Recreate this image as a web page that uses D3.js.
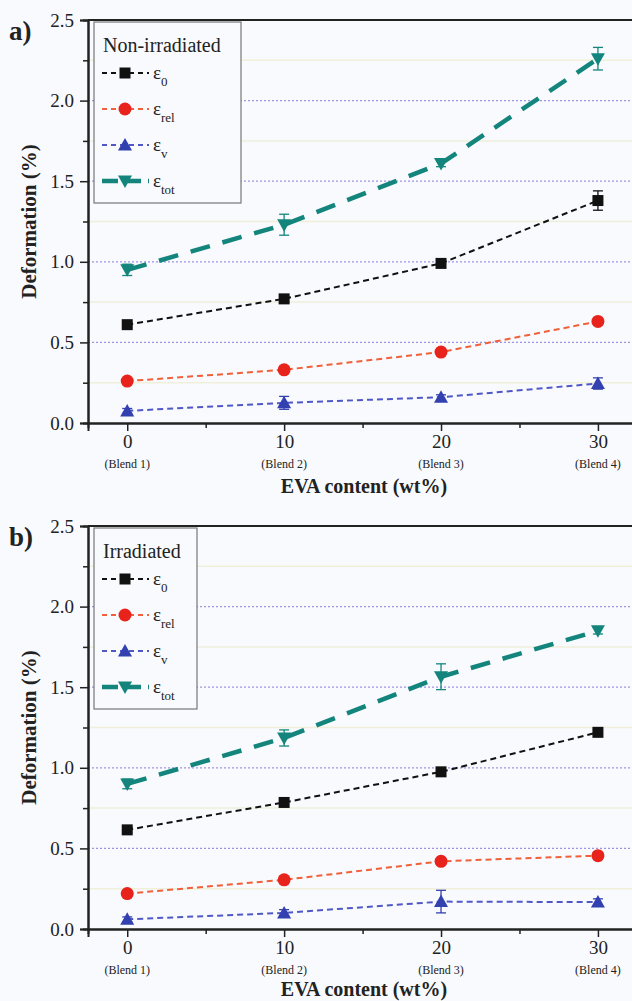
<!DOCTYPE html>
<html>
<head>
<meta charset="utf-8">
<script src="https://cdn.jsdelivr.net/npm/d3@7"></script>
<style>
  html, body { margin: 0; padding: 0; background: #f8fafd; }
  svg { display: block; }
  text { font-family: "Liberation Serif", "DejaVu Serif", serif; fill: #222; }
</style>
</head>
<body>
<div id="chart"></div>
<script>
// EVA content (wt%) and blend names
var evaContent = [0, 10, 20, 30];
var blendNames = ["(Blend 1)", "(Blend 2)", "(Blend 3)", "(Blend 4)"];
var yTicks = [0, 0.5, 1.0, 1.5, 2.0, 2.5];

// non-irradiated
var nonE0 = [0.61, 0.77, 0.99, 1.38];
var nonE0Err = [0.015, 0.015, 0.015, 0.06];
var nonErel = [0.26, 0.33, 0.44, 0.63];
var nonErelErr = [0.015, 0.015, 0.015, 0.02];
var nonEv = [0.075, 0.125, 0.16, 0.245];
var nonEvErr = [0.015, 0.04, 0.015, 0.035];
var nonEtot = [0.95, 1.23, 1.61, 2.26];
var nonEtotErr = [0.035, 0.065, 0.02, 0.07];

// irradiated
var irrE0 = [0.615, 0.785, 0.975, 1.22];
var irrE0Err = [0.015, 0.015, 0.015, 0.02];
var irrErel = [0.22, 0.305, 0.42, 0.455];
var irrErelErr = [0.015, 0.02, 0.015, 0.02];
var irrEv = [0.06, 0.1, 0.17, 0.167];
var irrEvErr = [0.015, 0.02, 0.07, 0.02];
var irrEtot = [0.9, 1.185, 1.565, 1.85];
var irrEtotErr = [0.03, 0.05, 0.08, 0.02];

var W = 632, H = 1001;

var styles = {
    e0:   { sub: "0",   color: "#111111", line: "#111111", width: 2,   dash: "6,4",   shape: "square" },
    erel: { sub: "rel", color: "#e8231c", line: "#f0603a", width: 2,   dash: "6,4",   shape: "circle" },
    ev:   { sub: "v",   color: "#3340b0", line: "#5058c8", width: 2,   dash: "6,4",   shape: "up" },
    etot: { sub: "tot", color: "#13857c", line: "#13857c", width: 4.5, dash: "20,13", shape: "down" }
};

var svg = d3.select("#chart").append("svg")
    .attr("width", W)
    .attr("height", H);

function marker(sel, shape, color) {
    if (shape === "square") {
        sel.append("rect").attr("x", -5.5).attr("y", -5.5).attr("width", 11).attr("height", 11)
            .attr("fill", color);
    } else if (shape === "circle") {
        sel.append("circle").attr("r", 6.5).attr("fill", color);
    } else if (shape === "up") {
        sel.append("path").attr("d", "M0,-7 L7,5.5 L-7,5.5 Z").attr("fill", color);
    } else {
        sel.append("path").attr("d", "M0,7 L7,-5.5 L-7,-5.5 Z").attr("fill", color);
    }
}

function drawPanel(top, letter, title, series, legendW, titleGap) {
    var bottom = top + 403;
    var x = d3.scaleLinear().domain([-2.5, 33]).range([88, 645]);
    var y = d3.scaleLinear().domain([0, 2.5]).range([bottom, top]);

    var g = svg.append("g");

    // grid: pale solid lines at quarter steps, dotted purple at half steps
    g.selectAll(".minorGrid").data([0.25, 0.75, 1.25, 1.75, 2.25]).enter().append("line")
        .attr("x1", 88).attr("x2", W)
        .attr("y1", function(d) { return y(d); }).attr("y2", function(d) { return y(d); })
        .attr("stroke", "#efefda").attr("stroke-width", 1.5);
    g.selectAll(".majorGrid").data([0.5, 1.0, 1.5, 2.0]).enter().append("line")
        .attr("x1", 88).attr("x2", W)
        .attr("y1", function(d) { return y(d); }).attr("y2", function(d) { return y(d); })
        .attr("stroke", "#a093e0").attr("stroke-width", 1.2).attr("stroke-dasharray", "2,2");

    // top frame line
    g.append("line").attr("x1", 88).attr("x2", W).attr("y1", top).attr("y2", top)
        .attr("stroke", "#222").attr("stroke-width", 2);

    // axes
    var yAxis = d3.axisLeft(y).tickValues(yTicks).tickFormat(d3.format(".1f")).tickSize(8).tickPadding(6);
    var ya = g.append("g").attr("transform", "translate(88,0)").call(yAxis);
    ya.selectAll("text").style("font-size", "19px").attr("fill", "#333");
    g.append("g").attr("transform", "translate(88,0)")
        .call(d3.axisLeft(y).tickValues([0.25, 0.75, 1.25, 1.75, 2.25]).tickSize(5).tickFormat(""));

    var xAxis = d3.axisBottom(x).tickValues(evaContent).tickSize(8).tickPadding(4).tickFormat(d3.format("d"));
    var xa = g.append("g").attr("transform", "translate(0," + bottom + ")").call(xAxis);
    xa.selectAll("text").style("font-size", "19px").attr("fill", "#333");
    g.append("g").attr("transform", "translate(0," + bottom + ")")
        .call(d3.axisBottom(x).tickValues([5, 15, 25]).tickSize(5).tickFormat(""));

    svg.selectAll(".domain").attr("stroke", "#222").attr("stroke-width", 2);
    svg.selectAll(".tick line").attr("stroke", "#222").attr("stroke-width", 1.5);

    g.selectAll(".blend").data(blendNames).enter().append("text")
        .attr("x", function(d, i) { return x(evaContent[i]); })
        .attr("y", bottom + 45)
        .attr("text-anchor", "middle")
        .style("font-size", "12px")
        .attr("fill", "#333")
        .text(function(d) { return d; });

    g.append("text")
        .attr("x", 364).attr("y", bottom + titleGap)
        .attr("text-anchor", "middle")
        .style("font-size", "20px").style("font-weight", "bold")
        .text("EVA content (wt%)");

    g.append("text")
        .attr("transform", "translate(36," + ((top + bottom) / 2) + ") rotate(-90)")
        .attr("text-anchor", "middle")
        .style("font-size", "21px").style("font-weight", "bold")
        .text("Deformation (%)");

    g.append("text")
        .attr("x", 9).attr("y", top + 20)
        .style("font-size", "27px").style("font-weight", "bold")
        .text(letter);

    var line = d3.line()
        .x(function(d) { return x(d.x); })
        .y(function(d) { return y(d.y); });

    series.forEach(function(s) {
        var st = styles[s.key];
        var pts = evaContent.map(function(v, i) { return { x: v, y: s.values[i], e: s.errors[i] }; });
        g.append("path").datum(pts)
            .attr("d", line)
            .attr("fill", "none")
            .attr("stroke", st.line)
            .attr("stroke-width", st.width)
            .attr("stroke-dasharray", st.dash);

        var eb = g.selectAll(null).data(pts).enter().append("g")
            .attr("stroke", st.color).attr("stroke-width", 1.3);
        eb.append("line")
            .attr("x1", function(d) { return x(d.x); }).attr("x2", function(d) { return x(d.x); })
            .attr("y1", function(d) { return y(d.y - d.e); }).attr("y2", function(d) { return y(d.y + d.e); });
        eb.append("line")
            .attr("x1", function(d) { return x(d.x) - 5; }).attr("x2", function(d) { return x(d.x) + 5; })
            .attr("y1", function(d) { return y(d.y + d.e); }).attr("y2", function(d) { return y(d.y + d.e); });
        eb.append("line")
            .attr("x1", function(d) { return x(d.x) - 5; }).attr("x2", function(d) { return x(d.x) + 5; })
            .attr("y1", function(d) { return y(d.y - d.e); }).attr("y2", function(d) { return y(d.y - d.e); });

        g.selectAll(null).data(pts).enter().append("g")
            .attr("transform", function(d) { return "translate(" + x(d.x) + "," + y(d.y) + ")"; })
            .each(function() { marker(d3.select(this), st.shape, st.color); });
    });

    // legend
    var lg = g.append("g").attr("transform", "translate(94," + (top + 2) + ")");
    lg.append("rect").attr("width", legendW).attr("height", 181)
        .attr("fill", "#f8fafd").attr("stroke", "#777").attr("stroke-width", 1.2);
    lg.append("text").attr("x", 9).attr("y", 30).style("font-size", "20px").text(title);
    series.forEach(function(s, i) {
        var st = styles[s.key];
        var ly = 51 + i * 36;
        var row = lg.append("g").attr("transform", "translate(0," + ly + ")");
        row.append("line").attr("x1", 8).attr("x2", 55)
            .attr("stroke", st.line).attr("stroke-width", st.width)
            .attr("stroke-dasharray", s.key === "etot" ? "16,7" : "5,4");
        var m = row.append("g").attr("transform", "translate(31,0)");
        marker(m, st.shape, st.color);
        var t = row.append("text").attr("x", 59).attr("y", 6).style("font-size", "19px");
        t.append("tspan").text("\u03b5");
        t.append("tspan").attr("dy", 7).style("font-size", "13px").text(st.sub);
    });
}

drawPanel(20, "a)", "Non-irradiated", [
    { key: "e0", values: nonE0, errors: nonE0Err },
    { key: "erel", values: nonErel, errors: nonErelErr },
    { key: "ev", values: nonEv, errors: nonEvErr },
    { key: "etot", values: nonEtot, errors: nonEtotErr }
], 147, 70);

drawPanel(526, "b)", "Irradiated", [
    { key: "e0", values: irrE0, errors: irrE0Err },
    { key: "erel", values: irrErel, errors: irrErelErr },
    { key: "ev", values: irrEv, errors: irrEvErr },
    { key: "etot", values: irrEtot, errors: irrEtotErr }
], 103, 67);
</script>
</body>
</html>
